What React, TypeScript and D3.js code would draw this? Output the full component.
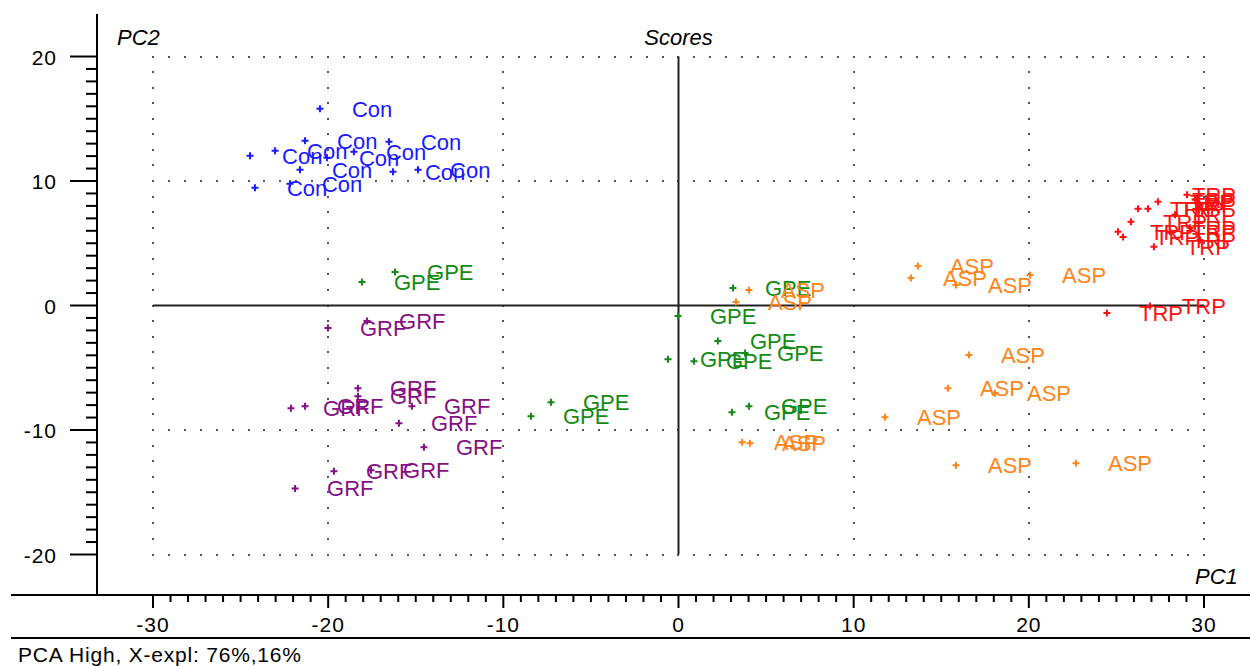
import React from "react";
import * as d3 from "d3";

// ---- data (PC1, PC2 scores) ----
const conPC1 = [-20.47, -21.32, -16.53, -24.46, -23.03, -20.07, -18.53, -21.61, -16.3, -14.87, -24.18, -22.18];
const conPC2 = [15.81, 13.24, 13.16, 12.03, 12.43, 11.87, 12.35, 10.91, 10.74, 10.91, 9.46, 9.78];

const gpePC1 = [-18.07, -16.18, -8.42, -7.28, 3.11, -0.03, 2.25, -0.6, 0.88, 3.8, 3.05, 4.02];
const gpePC2 = [1.89, 2.7, -8.89, -7.77, 1.41, -0.85, -2.86, -4.31, -4.47, -3.82, -8.57, -8.09];

const grfPC1 = [-20.01, -17.78, -22.12, -21.32, -18.3, -18.3, -15.22, -15.96, -14.53, -19.67, -17.55, -21.89];
const grfPC2 = [-1.81, -1.25, -8.25, -8.09, -6.64, -7.28, -8.09, -9.46, -11.39, -13.32, -13.24, -14.69];

const aspPC1 = [4.02, 3.28, 3.63, 4.08, 13.67, 13.27, 15.84, 20.07, 16.58, 15.38, 18.07, 11.79, 15.84, 22.69];
const aspPC2 = [1.25, 0.28, -10.99, -11.07, 3.18, 2.21, 1.65, 2.45, -3.98, -6.64, -7.04, -8.97, -12.84, -12.68];

const trpPC1 = [27.37, 26.23, 26.8, 25.83, 25.09, 25.38, 27.14, 29.03, 29.49, 29.77, 28.34, 29.2, 28.06, 29.77, 24.46, 26.91];
const trpPC2 = [8.33, 7.77, 7.77, 6.72, 5.92, 5.51, 4.71, 8.89, 8.49, 8.09, 7.28, 6.24, 5.92, 5.27, -0.6, -0.04];

const groupNames = ["Con", "GPE", "GRF", "ASP", "TRP"];
const groupColors = ["#1a1aff", "#138a13", "#850f85", "#ff8419", "#ff1010"];

const xTicks = [-30, -20, -10, 0, 10, 20, 30];
const yTicks = [20, 10, 0, -10, -20];

const title = "Scores";
const xName = "PC1";
const yName = "PC2";
const footer = "PCA High, X-expl: 76%,16%";

const groups = [
  { name: groupNames[0], color: groupColors[0], xs: conPC1, ys: conPC2 },
  { name: groupNames[1], color: groupColors[1], xs: gpePC1, ys: gpePC2 },
  { name: groupNames[2], color: groupColors[2], xs: grfPC1, ys: grfPC2 },
  { name: groupNames[3], color: groupColors[3], xs: aspPC1, ys: aspPC2 },
  { name: groupNames[4], color: groupColors[4], xs: trpPC1, ys: trpPC2 },
];

export default function App() {
  const W = 1250;
  const H = 666;
  const x = d3.scaleLinear().domain([-30, 30]).range([153, 1204]);
  const y = d3.scaleLinear().domain([-20, 20]).range([554.5, 56.5]);
  const axisY = 595;
  const axisX = 97;
  const font = "'Liberation Sans', Arial, sans-serif";

  const minorX = d3.range(-30, 31, 1);
  const minorY = d3.range(-20, 21, 1);

  // dotted grid
  const dots: JSX.Element[] = [];
  const hStep = (x(-20) - x(-30)) / 11;
  const vStep = (y(10) - y(20)) / 8;
  yTicks.filter((t) => t !== 0).forEach((t) => {
    for (let px = x(-30); px <= x(30) + 0.5; px += hStep) {
      dots.push(<rect key={`h${t}-${px}`} x={Math.round(px) - 1} y={Math.round(y(t)) - 1} width={2} height={2} fill="#555" />);
    }
  });
  xTicks.filter((t) => t !== 0).forEach((t) => {
    for (let py = y(20); py <= y(-20) + 0.5; py += vStep) {
      dots.push(<rect key={`v${t}-${py}`} x={Math.round(x(t)) - 1} y={Math.round(py) - 1} width={2} height={2} fill="#555" />);
    }
  });

  return (
    <svg width={W} height={H} style={{ position: "absolute", left: 0, top: 0, background: "#fff" }} fontFamily={font}>
      <rect x={0} y={0} width={W} height={H} fill="#fff" />
      {dots}
      {/* zero lines */}
      <line x1={x(-30)} x2={x(30)} y1={y(0)} y2={y(0)} stroke="#222" strokeWidth={2} />
      <line x1={x(0)} x2={x(0)} y1={y(20)} y2={y(-20)} stroke="#222" strokeWidth={2} />

      {/* axes */}
      <line x1={axisX} x2={axisX} y1={14} y2={axisY} stroke="#000" strokeWidth={2} />
      <line x1={11} x2={W} y1={axisY} y2={axisY} stroke="#000" strokeWidth={2} />
      <line x1={11} x2={W} y1={638} y2={638} stroke="#000" strokeWidth={2} />

      {minorX.map((t) => (
        <line key={`mx${t}`} x1={x(t)} x2={x(t)} y1={axisY} y2={t % 10 === 0 ? axisY + 13 : axisY + 7} stroke="#000" strokeWidth={2} />
      ))}
      {minorY.map((t) => (
        <line key={`my${t}`} y1={y(t)} y2={y(t)} x1={axisX} x2={t % 10 === 0 ? axisX - 27 : axisX - 11} stroke="#000" strokeWidth={2} />
      ))}

      {xTicks.map((t) => (
        <text key={`xt${t}`} x={x(t)} y={632} textAnchor="middle" fontSize={21} letterSpacing={1} fill="#000">
          {t}
        </text>
      ))}
      {yTicks.map((t) => (
        <text key={`yt${t}`} x={57} y={y(t) + 8} textAnchor="end" fontSize={21} letterSpacing={1} fill="#000">
          {t}
        </text>
      ))}

      <text x={x(0)} y={45} textAnchor="middle" fontSize={22} fontStyle="italic" fill="#000">{title}</text>
      <text x={117} y={45} fontSize={22} fontStyle="italic" fill="#000">{yName}</text>
      <text x={1195} y={584} fontSize={22} fontStyle="italic" fill="#000">{xName}</text>
      <text x={18} y={662} fontSize={21} letterSpacing={0.8} fill="#000">{footer}</text>

      {groups.map((g) => (
        <g key={g.name}>
          {g.xs.map((v, i) => {
            const px = x(v);
            const py = y(g.ys[i]);
            const lx = Math.min(px + 32, 1192);
            return (
              <g key={i}>
                <path d={`M${px - 3.5},${py}H${px + 3.5}M${px},${py - 3.5}V${py + 3.5}`} stroke={g.color} strokeWidth={2} />
                <text x={lx} y={py + 8} fontSize={22} fill={g.color}>{g.name}</text>
              </g>
            );
          })}
        </g>
      ))}
    </svg>
  );
}
